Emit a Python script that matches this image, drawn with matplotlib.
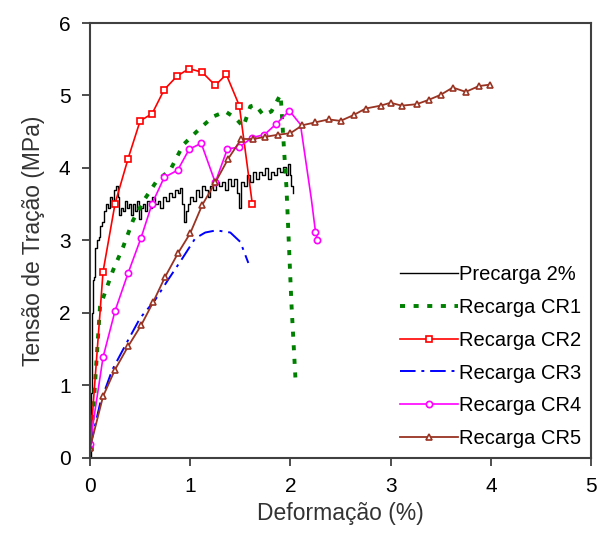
import matplotlib
matplotlib.use("Agg")
import matplotlib.pyplot as plt

plt.rcParams['font.family'] = ['Liberation Sans', 'DejaVu Sans']

# Precarga 2%
pre_x = [0.00, 0.01, 0.02, 0.03, 0.04, 0.05, 0.07, 0.09, 0.10, 0.12, 0.14, 0.16, 0.18, 0.20, 0.22,
         0.24, 0.26, 0.28, 0.29, 0.31, 0.33, 0.35, 0.37, 0.39, 0.41, 0.43, 0.45, 0.47, 0.49, 0.51,
         0.53, 0.55, 0.57, 0.60, 0.62, 0.65, 0.68, 0.70, 0.73, 0.76, 0.79, 0.82, 0.85, 0.88, 0.90,
         0.92, 0.94, 0.96, 0.98, 1.00, 1.03, 1.06, 1.09, 1.12, 1.15, 1.18, 1.20, 1.23, 1.26, 1.29,
         1.32, 1.35, 1.38, 1.41, 1.44, 1.47, 1.49, 1.51, 1.54, 1.57, 1.60, 1.63, 1.66, 1.69, 1.72,
         1.75, 1.78, 1.81, 1.84, 1.87, 1.90, 1.93, 1.96, 1.98, 2.00, 2.01, 2.03]
pre_y = [0.00, 0.90, 2.00, 2.45, 2.50, 2.90, 3.00, 3.05, 3.20, 3.25, 3.40, 3.50, 3.45, 3.60, 3.55,
         3.70, 3.75, 3.60, 3.35, 3.45, 3.40, 3.55, 3.45, 3.50, 3.35, 3.50, 3.40, 3.55, 3.30, 3.45,
         3.50, 3.40, 3.55, 3.45, 3.60, 3.50, 3.55, 3.45, 3.60, 3.55, 3.65, 3.60, 3.70, 3.65, 3.72,
         3.50, 3.25, 3.40, 3.50, 3.60, 3.55, 3.70, 3.60, 3.75, 3.70, 3.60, 3.75, 3.70, 3.80, 3.75,
         3.80, 3.70, 3.85, 3.75, 3.85, 3.65, 3.45, 3.80, 3.75, 3.90, 3.80, 3.95, 3.85, 3.95, 3.90,
         4.00, 3.85, 3.95, 3.90, 4.00, 3.95, 4.02, 3.90, 4.05, 3.90, 3.75, 3.65]

# Recarga CR1
cr1_x = [0.00, 0.03, 0.05, 0.08, 0.10, 0.17, 0.23, 0.33, 0.43, 0.55, 0.67, 0.80, 0.93, 1.10, 1.23,
         1.35, 1.45, 1.53, 1.60, 1.65, 1.73, 1.81, 1.90, 1.91, 1.93, 1.96, 1.98, 2.01, 2.05]
cr1_y = [0.15, 0.60, 1.03, 1.67, 2.09, 2.36, 2.59, 2.91, 3.28, 3.58, 3.83, 3.97, 4.32, 4.55, 4.71,
         4.78, 4.69, 4.57, 4.85, 4.87, 4.73, 4.78, 5.01, 4.85, 4.39, 3.74, 3.10, 2.13, 1.10]

# Recarga CR2
cr2_x = [0.00, 0.13, 0.25, 0.38, 0.50, 0.62, 0.74, 0.87, 0.99, 1.12, 1.25, 1.36, 1.49, 1.62]
cr2_y = [0.15, 2.57, 3.51, 4.13, 4.65, 4.75, 5.08, 5.27, 5.37, 5.32, 5.14, 5.29, 4.86, 3.50]

# Recarga CR3
cr3_x = [0.00, 0.10, 0.22, 0.37, 0.50, 0.65, 0.78, 0.92, 1.05, 1.15, 1.26, 1.40, 1.50, 1.58]
cr3_y = [0.15, 0.75, 1.21, 1.60, 1.93, 2.18, 2.46, 2.75, 3.03, 3.11, 3.14, 3.11, 2.98, 2.69]

# Recarga CR4
cr4_x = [0.00, 0.13, 0.25, 0.38, 0.51, 0.62, 0.74, 0.875, 0.99, 1.11, 1.25, 1.37, 1.49, 1.62,
         1.74, 1.86, 1.99, 2.10, 2.21, 2.25, 2.27]
cr4_y = [0.19, 1.39, 2.03, 2.55, 3.04, 3.51, 3.87, 3.97, 4.26, 4.34, 3.80, 4.26, 4.29, 4.42,
         4.46, 4.61, 4.79, 4.60, 3.56, 3.12, 3.01]
cr4_marks = [0, 1, 2, 3, 4, 5, 6, 7, 8, 9, 10, 11, 12, 13, 14, 15, 16, 19, 20]

# Recarga CR5
cr5_x = [0.00, 0.13, 0.25, 0.38, 0.51, 0.63, 0.75, 0.88, 1.00, 1.12, 1.25, 1.38, 1.51, 1.63,
         1.75, 1.88, 2.00, 2.12, 2.25, 2.38, 2.50, 2.63, 2.75, 2.90, 3.00, 3.11, 3.26, 3.38,
         3.50, 3.62, 3.75, 3.88, 3.99]
cr5_y = [0.14, 0.85, 1.22, 1.54, 1.83, 2.15, 2.50, 2.83, 3.10, 3.49, 3.80, 4.13, 4.40, 4.40,
         4.43, 4.46, 4.48, 4.59, 4.63, 4.67, 4.65, 4.73, 4.82, 4.86, 4.90, 4.86, 4.88, 4.94,
         5.01, 5.11, 5.05, 5.13, 5.15]

labels = ["Precarga 2%", "Recarga CR1", "Recarga CR2", "Recarga CR3", "Recarga CR4", "Recarga CR5"]
xticks = [0, 1, 2, 3, 4, 5]
yticks = [0, 1, 2, 3, 4, 5, 6]

fig = plt.figure(figsize=(5.97, 5.40), dpi=100)
ax = fig.add_axes([0.1508, 0.1519, 0.8392, 0.8055])

ax.plot(pre_x, pre_y, color='black', lw=1.0, drawstyle='steps-post', label=labels[0])
ax.plot(cr1_x, cr1_y, color='#008000', lw=2.8, linestyle=(0, (1.3, 2.2)), label=labels[1])
ax.plot(cr2_x, cr2_y, color='#ff0000', lw=1.2, marker='s', ms=5, mfc='white', mec='#ff0000',
        mew=1.2, label=labels[2])
ax.plot(cr3_x, cr3_y, color='#0000ff', lw=1.4, linestyle=(0, (8, 3, 1.5, 3)), label=labels[3])
ax.plot(cr4_x, cr4_y, color='#ff00ff', lw=1.2, marker='o', ms=4.5, mfc='white', mec='#ff00ff',
        mew=1.2, markevery=cr4_marks, label=labels[4])
ax.plot(cr5_x, cr5_y, color='#993322', lw=1.3, marker='^', ms=5, mfc='white', mec='#993322',
        mew=1.2, label=labels[5])

ax.set_xlim(0, 5)
ax.set_ylim(0, 6)
ax.set_xticks(xticks)
ax.set_yticks(yticks)
ax.tick_params(direction='out', length=6, width=1.3, color='#404040', labelsize=15, pad=8,
               right=False, top=False)
for s in ax.spines.values():
    s.set_color('#404040')
    s.set_linewidth(1.5)

ax.set_xlabel("Deformação (%)", fontsize=16.5, color='#333333', labelpad=4)
ax.set_ylabel("Tensão de Tração (MPa)", fontsize=16.5, color='#333333', labelpad=10)

leg = ax.legend(loc='lower right', bbox_to_anchor=(1.0, 0.0), frameon=False, fontsize=14.5,
                handlelength=2.85, handletextpad=0.05, labelspacing=0.68, borderaxespad=0.1)

fig.savefig("out.png", dpi=100)
